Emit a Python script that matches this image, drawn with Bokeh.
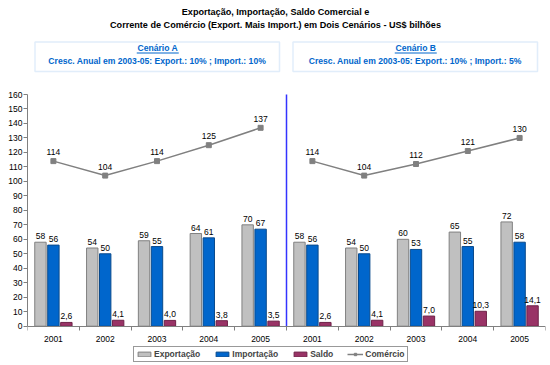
from bokeh.plotting import figure
from bokeh.models import (ColumnDataSource, FixedTicker, Label, BoxAnnotation,
                          Legend, LegendItem, Range1d, LinearAxis)
from bokeh.embed import file_html
from bokeh.resources import INLINE
from bokeh.core.properties import value

# ---------------- data ----------------
years = ["2001", "2002", "2003", "2004", "2005"]
export_a = [58, 54, 59, 64, 70]
import_a = [56, 50, 55, 61, 67]
saldo_a = [2.6, 4.1, 4.0, 3.8, 3.5]
comercio_a = [114, 104, 114, 125, 137]
export_b = [58, 54, 60, 65, 72]
import_b = [56, 50, 53, 55, 58]
saldo_b = [2.6, 4.1, 7.0, 10.3, 14.1]
comercio_b = [114, 104, 112, 121, 130]
y_ticks = list(range(0, 161, 10))

title_1 = "Exportação, Importação, Saldo Comercial e"
title_2 = "Corrente de Comércio (Export. Mais Import.) em Dois Cenários - US$ bilhões"
box_a_1 = "Cenário A"
box_a_2 = "Cresc. Anual em 2003-05: Export.: 10% ; Import.: 10%"
box_b_1 = "Cenário B"
box_b_2 = "Cresc. Anual em 2003-05: Export.: 10% ; Import.: 5%"

# ---------------- layout constants (pixels) ----------------
W, H = 550, 365
FL, FR = 27, 545          # frame left / right
PY_TOP, PY_ZERO = 94, 325.7   # pixel rows of y=160 and y=0
FONT = "Liberation Sans"
GRAY = "#C0C0C0"
BLUE = "#0066CC"
MAROON = "#993366"
LINE = "#808080"
BW = 0.22
OFF = 0.25

ymin, ymax = y_ticks[0], y_ticks[-1]
ppu = (PY_ZERO - PY_TOP) / (ymax - ymin)
y_lo = ymin - (H - PY_ZERO) / ppu
y_hi = ymax + PY_TOP / ppu

n = len(years)
cats = years + years
centers = [i + 0.5 for i in range(2 * n)]
exports = export_a + export_b
imports = import_a + import_b
saldos = saldo_a + saldo_b

src = ColumnDataSource(dict(
    xc=centers,
    xe=[c - OFF for c in centers],
    xs=[c + OFF for c in centers],
    exp=exports, imp=imports, sal=saldos,
    exp_t=[str(v) for v in exports],
    imp_t=[str(v) for v in imports],
    sal_t=[f"{v:.1f}".replace(".", ",") for v in saldos],
))
src_ca = ColumnDataSource(dict(x=centers[:n], y=comercio_a, t=[str(v) for v in comercio_a]))
src_cb = ColumnDataSource(dict(x=centers[n:], y=comercio_b, t=[str(v) for v in comercio_b]))

p = figure(width=W, height=H, output_backend="svg", toolbar_location=None,
           x_range=Range1d(0, 2 * n), y_range=Range1d(y_lo, y_hi),
           min_border_left=FL, min_border_right=W - FR, min_border_top=0, min_border_bottom=0,
           x_axis_location=None)
p.outline_line_color = None
p.xgrid.visible = False
p.ygrid.visible = False
p.background_fill_color = "white"
p.border_fill_color = "white"

# y axis
p.yaxis.ticker = FixedTicker(ticks=y_ticks, minor_ticks=[])
p.yaxis.bounds = (ymin, ymax)
p.yaxis.axis_line_color = LINE
p.yaxis.major_tick_line_color = LINE
p.yaxis.major_tick_out = 4
p.yaxis.major_tick_in = 0
p.yaxis.minor_tick_line_color = None
p.yaxis.major_label_standoff = 1
p.yaxis.major_label_text_font = FONT
p.yaxis.major_label_text_font_size = "8.5px"
p.yaxis.major_label_text_color = "black"

# x axis fixed at y = 0
xax = LinearAxis(fixed_location=ymin)
xax.ticker = FixedTicker(ticks=centers, minor_ticks=list(range(0, 2 * n + 1)))
xax.major_label_overrides = {c: y for c, y in zip(centers, cats)}
xax.axis_line_color = LINE
xax.major_tick_line_color = None
xax.minor_tick_line_color = LINE
xax.minor_tick_out = 4
xax.minor_tick_in = 0
xax.major_label_standoff = 4
xax.major_label_text_font = FONT
xax.major_label_text_font_size = "8.5px"
xax.major_label_text_color = "black"
p.add_layout(xax, "below")

# bars
r_exp = p.vbar(x="xe", top="exp", width=BW, source=src, fill_color=GRAY, line_color="#808080", line_width=1)
r_imp = p.vbar(x="xc", top="imp", width=BW, source=src, fill_color=BLUE, line_color="#0A4A8C", line_width=1)
r_sal = p.vbar(x="xs", top="sal", width=BW, source=src, fill_color=MAROON, line_color="#6E2248", line_width=1)

lbl = dict(text_font=value(FONT), text_font_size="8.5px", text_align="center",
           text_baseline="bottom", text_color="black", y_offset=-3)
p.text(x="xe", y="exp", text="exp_t", source=src, **lbl)
p.text(x="xc", y="imp", text="imp_t", source=src, **lbl)
p.text(x="xs", y="sal", text="sal_t", source=src, **lbl)

# comércio lines
r_la = p.line(x="x", y="y", source=src_ca, line_color=LINE, line_width=1.5)
r_ma = p.scatter(x="x", y="y", source=src_ca, marker="square", size=5, fill_color=LINE, line_color=LINE)
p.line(x="x", y="y", source=src_cb, line_color=LINE, line_width=1.5)
p.scatter(x="x", y="y", source=src_cb, marker="square", size=5, fill_color=LINE, line_color=LINE)
lbl2 = dict(text_font=value(FONT), text_font_size="8.5px", text_align="center",
            text_baseline="bottom", text_color="black", y_offset=-6)
p.text(x="x", y="y", text="t", source=src_ca, **lbl2)
p.text(x="x", y="y", text="t", source=src_cb, **lbl2)

# divider between the two scenarios
p.segment(x0=[n], y0=[ymin], x1=[n], y1=[ymax], line_color="#3333FF", line_width=1.5)

# titles and scenario boxes (screen units: frame-relative, y up)
def sx(px):
    return px - FL

def sy(py):
    return H - py

def screen_label(px, py, text, size="9px", color="black", style="bold"):
    p.add_layout(Label(x=sx(px), y=sy(py), x_units="screen", y_units="screen", text=text,
                       text_font=FONT, text_font_size=size, text_font_style=style,
                       text_color=color, text_align="center", text_baseline="middle"))

def screen_box(l, r, t, b, color, fill="white", width=1.0):
    p.add_layout(BoxAnnotation(left=sx(l), right=sx(r), top=sy(t), bottom=sy(b),
                               left_units="screen", right_units="screen",
                               top_units="screen", bottom_units="screen",
                               fill_color=fill, fill_alpha=1,
                               line_color=color, line_width=width))

screen_label(275, 11.5, title_1, size="9.1px")
screen_label(275, 24.5, title_2, size="9.1px")

for (l, r, t1, t2) in [(34.5, 279, box_a_1, box_a_2), (292.5, 537, box_b_1, box_b_2)]:
    screen_box(l, r, 41.5, 71, "#9CC3EE", width=1.5)
    cx = (l + r) / 2
    screen_label(cx + 0.5, 47.5, t1, size="8.6px", color=BLUE)
    screen_box(cx - 20.5, cx + 21.5, 52, 53, None, fill=BLUE, width=0)
    screen_label(cx, 60.5, t2, size="8.6px", color=BLUE)

# legend
legend = Legend(items=[
    LegendItem(label="Exportação", renderers=[r_exp]),
    LegendItem(label="Importação", renderers=[r_imp]),
    LegendItem(label="Saldo", renderers=[r_sal]),
    LegendItem(label="Comércio", renderers=[r_la, r_ma]),
], orientation="horizontal", location=(sx(133), sy(362)), margin=0, padding=2, spacing=14,
    label_standoff=2, glyph_width=16, glyph_height=6, label_height=8,
    label_text_font=FONT, label_text_font_size="8.5px", label_text_font_style="bold",
    border_line_color="#333333", border_line_width=1, background_fill_alpha=1)
p.add_layout(legend, "center")

open("out.html", "w").write(file_html(p, INLINE))
